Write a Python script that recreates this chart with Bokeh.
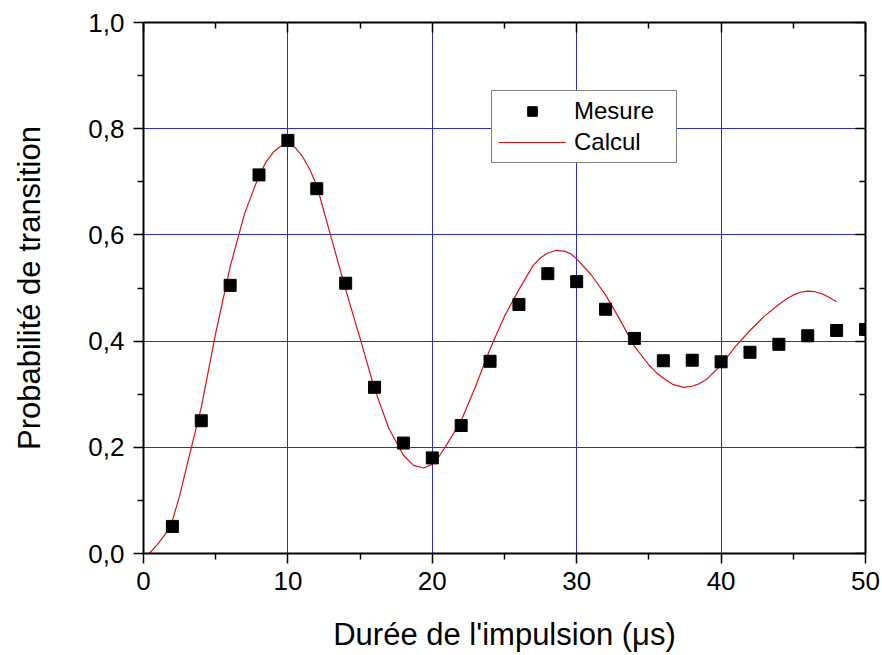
from bokeh.plotting import figure
from bokeh.models import (Range1d, LinearAxis, FixedTicker, CustomJSTickFormatter,
                          Legend, LegendItem, ColumnDataSource)
from bokeh.embed import file_html
from bokeh.resources import INLINE

# ---- data ----
mesure_x = [2, 4, 6, 8, 10, 12, 14, 16, 18, 20, 22, 24, 26, 28, 30, 32, 34,
            36, 38, 40, 42, 44, 46, 48, 50]
mesure_y = [0.051, 0.250, 0.505, 0.713, 0.778, 0.687, 0.509, 0.313, 0.208,
            0.180, 0.241, 0.362, 0.469, 0.527, 0.512, 0.460, 0.405, 0.363,
            0.364, 0.361, 0.379, 0.394, 0.410, 0.420, 0.422]

calcul_x = [0.4, 1, 1.5, 2, 2.5, 3, 3.5, 4, 4.5, 5, 6, 7, 8, 8.5, 9, 9.5, 10,
            10.5, 11, 11.5, 12, 13, 14, 15, 16, 17, 18, 18.7, 19.4, 20, 20.5,
            21, 22, 23, 24, 25, 26, 27, 27.5, 28, 28.6, 29.2, 29.6, 30, 31,
            32, 33, 34, 35, 35.5, 36, 36.7, 37.4, 38, 38.5, 39, 40, 41, 42,
            43, 44, 44.5, 45, 45.5, 46, 46.5, 47, 47.5, 48]
calcul_y = [0.0, 0.018, 0.036, 0.062, 0.108, 0.165, 0.220, 0.275, 0.345,
            0.415, 0.540, 0.640, 0.712, 0.738, 0.756, 0.767, 0.770, 0.765,
            0.748, 0.724, 0.693, 0.595, 0.497, 0.405, 0.310, 0.235, 0.185,
            0.166, 0.161, 0.168, 0.184, 0.205, 0.250, 0.315, 0.385, 0.447,
            0.497, 0.543, 0.557, 0.566, 0.571, 0.569, 0.564, 0.555, 0.525,
            0.487, 0.440, 0.390, 0.355, 0.341, 0.330, 0.318, 0.313, 0.315,
            0.320, 0.328, 0.355, 0.390, 0.420, 0.447, 0.469, 0.479, 0.487,
            0.492, 0.494, 0.493, 0.489, 0.482, 0.474]

x_ticks = [0, 10, 20, 30, 40, 50]
x_minor = [5, 15, 25, 35, 45]
y_ticks = [0.0, 0.2, 0.4, 0.6, 0.8, 1.0]
y_minor = [0.1, 0.3, 0.5, 0.7, 0.9]

x_label = "Durée de l'impulsion (\u03bcs)"
y_label = "Probabilité de transition"
legend_labels = ["Mesure", "Calcul"]

FONT = "Liberation Sans"
GRID = "#2a2ade"

p = figure(frame_width=722, frame_height=531,
           x_range=Range1d(0, 50), y_range=Range1d(0, 1),
           output_backend="svg", toolbar_location=None,
           min_border_left=143, min_border_right=15,
           min_border_top=22, min_border_bottom=99,
           x_axis_location=None, y_axis_location=None)
p.outline_line_color = None
p.background_fill_color = "white"
p.border_fill_color = "white"

xt = FixedTicker(ticks=x_ticks, minor_ticks=x_minor)
yt = FixedTicker(ticks=y_ticks, minor_ticks=y_minor)

def style(ax, outer):
    ax.axis_line_width = 2
    ax.axis_line_color = "black"
    ax.major_tick_line_width = 1.5
    ax.minor_tick_line_width = 1.5
    ax.major_tick_line_color = "black"
    ax.minor_tick_line_color = "black"
    if outer:
        ax.major_tick_out = 10
        ax.major_tick_in = 0
        ax.minor_tick_out = 6
        ax.minor_tick_in = 0
    else:
        ax.major_tick_out = 0
        ax.major_tick_in = 10
        ax.minor_tick_out = 0
        ax.minor_tick_in = 6
    ax.major_label_text_font = FONT
    ax.major_label_text_font_size = "26px"
    ax.major_label_text_color = "black"
    ax.axis_label_text_font = FONT
    ax.axis_label_text_font_style = "normal"
    ax.axis_label_text_font_size = "31px"
    ax.axis_label_text_color = "black"

xfmt = CustomJSTickFormatter(code="return tick.toFixed(0);")
yfmt = CustomJSTickFormatter(code="return tick.toFixed(1).replace('.', ',');")
blank = CustomJSTickFormatter(code="return '';")

bottom = LinearAxis(ticker=xt, formatter=xfmt, axis_label=x_label)
style(bottom, True)
bottom.major_label_standoff = 8
bottom.axis_label_standoff = 24
p.add_layout(bottom, "below")

left = LinearAxis(ticker=yt, formatter=yfmt, axis_label=y_label)
style(left, True)
left.major_label_standoff = 9
left.axis_label_standoff = 38
p.add_layout(left, "left")

top = LinearAxis(ticker=xt, formatter=blank)
style(top, False)
top.major_label_standoff = 0
p.add_layout(top, "above")

right = LinearAxis(ticker=yt, formatter=blank)
style(right, False)
right.major_label_standoff = 0
p.add_layout(right, "right")

p.xgrid.ticker = FixedTicker(ticks=[10, 20, 30, 40])
p.ygrid.ticker = FixedTicker(ticks=[0.2, 0.4, 0.6, 0.8])
for g in (p.xgrid, p.ygrid):
    g.grid_line_color = GRID
    g.grid_line_width = 1

src_m = ColumnDataSource(dict(x=mesure_x, y=mesure_y))
src_c = ColumnDataSource(dict(x=calcul_x, y=calcul_y))

r_line = p.line("x", "y", source=src_c, line_color="#e01010", line_width=1.2)
r_sq = p.scatter("x", "y", source=src_m, marker="square", size=12,
                 fill_color="black", line_color="black")

legend = Legend(items=[LegendItem(label=legend_labels[0], renderers=[r_sq]),
                       LegendItem(label=legend_labels[1], renderers=[r_line])],
                location=(348, 390))
legend.border_line_color = "black"
legend.border_line_width = 1.5
legend.background_fill_color = "white"
legend.background_fill_alpha = 1
legend.padding = 6
legend.spacing = 3
legend.glyph_width = 68
legend.glyph_height = 24
legend.label_height = 24
legend.label_standoff = 8
legend.label_width = 96
legend.label_text_font = FONT
legend.label_text_font_size = "24px"
legend.label_text_color = "black"
legend.margin = 0
p.add_layout(legend, "center")

open("out.html", "w").write(file_html(p, INLINE))
